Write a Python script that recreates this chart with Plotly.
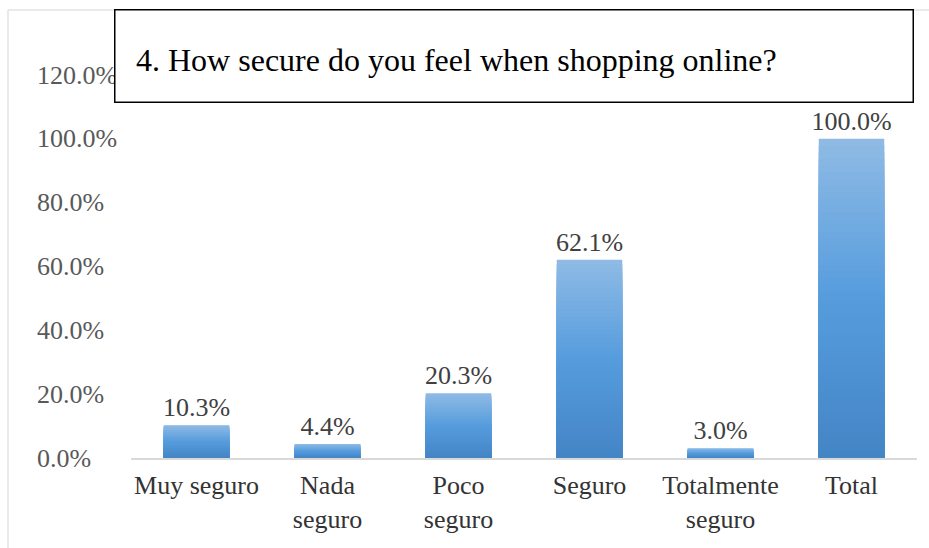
import plotly.graph_objects as go

# Survey responses: share of respondents per answer
categories = ["Muy seguro", "Nada seguro", "Poco seguro", "Seguro", "Totalmente seguro", "Total"]
category_labels = ["Muy seguro", "Nada<br>seguro", "Poco<br>seguro", "Seguro", "Totalmente<br>seguro", "Total"]
shares = [0.103, 0.044, 0.203, 0.621, 0.030, 1.000]
y_ticks = [0.0, 0.2, 0.4, 0.6, 0.8, 1.0, 1.2]
title_text = "4. How secure do you feel when shopping online?"

FONT = "Liberation Serif"
W, H = 929, 548
ML, MR, MT, MB = 131, 12, 75, 90


def px_x(px):
    return (px - ML) / (W - ML - MR)


def px_y(py):
    return (H - MB - py) / (H - MT - MB)


def lerp_color(stops, t):
    # stops: list of (pos, (r, g, b))
    for (p0, c0), (p1, c1) in zip(stops, stops[1:]):
        if p0 <= t <= p1:
            f = (t - p0) / (p1 - p0) if p1 > p0 else 0
            c = [round(a + (b - a) * f) for a, b in zip(c0, c1)]
            return f"rgb({c[0]},{c[1]},{c[2]})"
    c = stops[-1][1]
    return f"rgb({c[0]},{c[1]},{c[2]})"


# vertical gradient, top of each bar -> bottom
grad = [(0.0, (143, 187, 229)), (0.5, (86, 156, 221)), (1.0, (68, 133, 198))]
N = 48

fig = go.Figure()
for k in range(N):
    frac = 1 - k / N
    color = lerp_color(grad, (k + 0.5) / N)
    top = k == 0
    fig.add_trace(go.Bar(
        x=categories,
        y=[v * frac for v in shares],
        marker=dict(color=color, line=dict(width=0)),
        text=[f"{v:.1%}" for v in shares] if top else None,
        textposition="outside" if top else "none",
        constraintext="none",
        textfont=dict(family=FONT, size=26, color="#404040"),
        cliponaxis=False,
        hoverinfo="skip" if not top else "x+y",
        showlegend=False,
    ))

annotations = []
# value-axis labels, left aligned
for v in y_ticks:
    annotations.append(dict(
        xref="paper", yref="y", x=px_x(35), y=v,
        xanchor="left", yanchor="middle",
        text=f"{v:.1%}", showarrow=False,
        font=dict(family=FONT, size=26, color="#595959"),
    ))

# white title box (covers the top value label), then the title text
annotations.append(dict(
    xref="paper", yref="paper", x=px_x(114), y=px_y(9),
    xanchor="left", yanchor="top",
    width=797, height=91, borderpad=0, borderwidth=1.5,
    bordercolor="#000000", bgcolor="#ffffff",
    text=" ", showarrow=False,
    font=dict(family=FONT, size=12, color="#ffffff"),
))
annotations.append(dict(
    xref="paper", yref="paper", x=px_x(135), y=px_y(60),
    xanchor="left", yanchor="middle",
    text=title_text, showarrow=False, borderpad=0,
    font=dict(family=FONT, size=32, color="#000000"),
))

shapes = [
    dict(type="line", xref="paper", yref="paper",
         x0=px_x(8), x1=px_x(8), y0=px_y(10), y1=px_y(560),
         line=dict(color="#E3E3E3", width=1.5)),
    dict(type="line", xref="paper", yref="paper",
         x0=px_x(8), x1=px_x(940), y0=px_y(10), y1=px_y(10),
         line=dict(color="#E3E3E3", width=1.5)),
]

fig.update_layout(
    width=W, height=H,
    margin=dict(l=ML, r=MR, t=MT, b=MB, pad=0),
    paper_bgcolor="#ffffff", plot_bgcolor="#ffffff",
    barmode="overlay", bargap=0.5,
    annotations=annotations, shapes=shapes,
    xaxis=dict(
        tickmode="array", tickvals=categories, ticktext=category_labels,
        tickfont=dict(family=FONT, size=26, color="#333333"),
        ticklabelstandoff=3,
        showline=True, linecolor="#D9D9D9", linewidth=1.5,
        showgrid=False, zeroline=False, ticks="",
    ),
    yaxis=dict(
        range=[0, 1.2], showticklabels=False, showgrid=False,
        zeroline=False, showline=False, ticks="",
    ),
)

fig.write_html("out.html")
